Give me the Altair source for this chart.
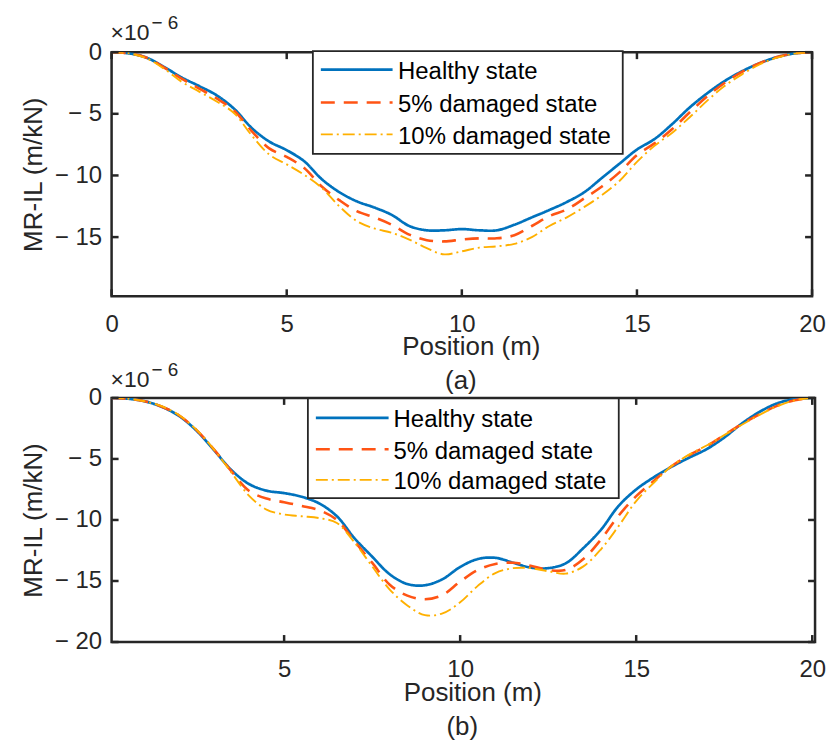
import altair as alt
import pandas as pd

SERIES = ["Healthy state", "5% damaged state", "10% damaged state"]
COLORS = ["#0072BD", "#FF5414", "#FFB000"]
DASHES = [[1, 0], [14, 9], [12, 4, 2, 4]]
WIDTHS = [2.7, 2.6, 1.9]

FONT = "Liberation Sans"
INK = "#262626"

# ---- panel (a): moment-rotation influence lines, x10^-6 m/kN ----
pos_a = [0, 0.5, 1, 1.5, 2, 2.5, 3, 3.5, 4, 4.5, 5, 5.5, 6, 6.5, 7, 7.5, 8, 8.5, 9, 9.5,
         10, 10.5, 11, 11.5, 12, 12.5, 13, 13.5, 14, 14.5, 15, 15.5, 16, 16.5, 17, 17.5,
         18, 18.5, 19, 19.5, 20]
healthy_a = [0, -0.1, -0.45, -1.2, -2.05, -2.75, -3.5, -4.6, -6.15, -7.25, -7.95, -8.85,
             -10.3, -11.35, -12.1, -12.6, -13.2, -14.1, -14.45, -14.45, -14.35, -14.45,
             -14.45, -14.0, -13.4, -12.8, -12.15, -11.35, -10.2, -9.05, -7.9, -7.05, -5.85,
             -4.5, -3.35, -2.35, -1.55, -0.9, -0.4, -0.1, 0]
dmg5_a = [0, -0.1, -0.45, -1.25, -2.15, -2.95, -3.75, -4.75, -6.4, -7.8, -8.5, -9.4,
          -10.9, -12.0, -12.9, -13.4, -14.0, -14.8, -15.25, -15.35, -15.2, -15.1, -15.1,
          -14.85, -14.1, -13.3, -12.75, -11.85, -10.9, -9.75, -8.35, -7.4, -6.25, -4.9,
          -3.6, -2.5, -1.6, -0.9, -0.4, -0.1, 0]
dmg10_a = [0, -0.1, -0.5, -1.35, -2.4, -3.2, -4.0, -4.95, -6.75, -8.3, -9.1, -9.95,
           -11.0, -12.5, -13.7, -14.3, -14.65, -15.2, -15.9, -16.4, -16.15, -15.85, -15.75,
           -15.55, -15.0, -14.1, -13.4, -12.55, -11.6, -10.45, -8.9, -7.6, -6.55, -5.3,
           -3.95, -2.75, -1.8, -1.0, -0.45, -0.12, 0]

# ---- panel (b) ----
pos_b = [0.1, 0.5, 1, 1.5, 2, 2.5, 3, 3.5, 4, 4.5, 5, 5.5, 6, 6.5, 7, 7.5, 8, 8.5, 9, 9.5,
         10, 10.5, 11, 11.5, 12, 12.5, 13, 13.5, 14, 14.5, 15, 15.5, 16, 16.5, 17, 17.5,
         18, 18.5, 19, 19.5, 20]
healthy_b = [0, -0.05, -0.25, -0.7, -1.45, -2.65, -4.25, -5.9, -7.05, -7.6, -7.8, -8.1,
             -8.65, -9.7, -11.5, -13.0, -14.45, -15.25, -15.35, -14.85, -13.85, -13.2,
             -13.1, -13.5, -13.9, -13.95, -13.55, -12.3, -10.8, -8.85, -7.5, -6.5, -5.65,
             -4.9, -4.2, -3.25, -2.1, -1.15, -0.45, -0.1, 0]
dmg5_b = [0, -0.05, -0.25, -0.68, -1.4, -2.6, -4.2, -6.0, -7.6, -8.25, -8.55, -8.85,
          -9.2, -10.0, -11.75, -13.5, -15.3, -16.2, -16.5, -16.15, -15.05, -14.1, -13.6,
          -13.5, -13.75, -14.1, -14.1, -13.2, -11.6, -9.65, -8.05, -6.8, -5.6, -4.7,
          -3.95, -3.05, -2.15, -1.35, -0.65, -0.2, 0]
dmg10_b = [0, -0.05, -0.25, -0.66, -1.38, -2.58, -4.2, -6.1, -8.0, -9.15, -9.55, -9.7,
           -9.85, -10.25, -11.85, -13.8, -15.7, -17.0, -17.8, -17.65, -16.75, -15.4,
           -14.35, -13.95, -13.95, -14.2, -14.4, -13.8, -12.4, -10.5, -8.45, -6.95, -5.6,
           -4.65, -3.9, -3.05, -2.2, -1.4, -0.7, -0.2, 0]

X_TICKS_A = [0, 5, 10, 15, 20]
X_TICKS_B = [5, 10, 15, 20]
Y_TICKS_A = [-15, -10, -5, 0]
Y_TICKS_B = [-20, -15, -10, -5, 0]

ONE = alt.Data(values=[{}])
TICK = 7


def panel(pos, curves, x_dom, y_dom, width, height, x_ticks, y_ticks, tag,
          box, rows, sample_x, text_x, exp_y):
    xs = alt.Scale(domain=x_dom, nice=False, zero=False)
    ys = alt.Scale(domain=y_dom, nice=False, zero=False)
    x_enc = alt.X(
        "pos:Q", scale=xs,
        axis=alt.Axis(values=x_ticks, title="Position (m)", labelFlush=False,
                      labelBaseline="alphabetic", labelPadding=35,
                      titleX=width / 2 + 9, titleY=58.5, titleBaseline="alphabetic",
                      titleAlign="center"),
    )
    y_enc = alt.Y(
        "val:Q", scale=ys,
        axis=alt.Axis(values=y_ticks, title="MR-IL (m/kN)", labelPadding=10,
                      labelExpr="datum.value < 0 ? '\u2212 ' + format(-datum.value, 'd') : format(datum.value, 'd')",
                      titleX=-70.5, titleY=height / 2, titleAngle=270,
                      titleBaseline="alphabetic", titleAlign="center"),
    )

    layers = []
    # anchor that fixes the panel's top-left corner of the page
    layers.append(
        alt.Chart(ONE).mark_rect(opacity=0).encode(
            x=alt.value(-110), x2=alt.value(-105), y=alt.value(-49.5), y2=alt.value(-45))
    )
    for name, vals, col, dash, sw in zip(SERIES, curves, COLORS, DASHES, WIDTHS):
        df = pd.DataFrame({"pos": pos, "val": vals})
        layers.append(
            alt.Chart(df).mark_line(color=col, strokeDash=dash, strokeWidth=sw,
                                    interpolate="catmull-rom", clip=True)
            .encode(x=x_enc, y=y_enc)
        )

    # inward ticks on all four sides
    xt = pd.DataFrame({"pos": x_ticks})
    yt = pd.DataFrame({"val": y_ticks})
    layers.append(alt.Chart(xt).mark_rule(color=INK, strokeWidth=2.5).encode(
        x=x_enc, y=alt.value(height), y2=alt.value(height - TICK)))
    layers.append(alt.Chart(xt).mark_rule(color=INK, strokeWidth=2.5).encode(
        x=x_enc, y=alt.value(0), y2=alt.value(TICK)))
    layers.append(alt.Chart(yt).mark_rule(color=INK, strokeWidth=2.5).encode(
        y=y_enc, x=alt.value(0), x2=alt.value(TICK)))
    layers.append(alt.Chart(yt).mark_rule(color=INK, strokeWidth=2.5).encode(
        y=y_enc, x=alt.value(width), x2=alt.value(width - TICK)))

    # legend box
    layers.append(
        alt.Chart(ONE).mark_rect(fill="white", stroke=INK, strokeWidth=1.8).encode(
            x=alt.value(box[0]), x2=alt.value(box[1]),
            y=alt.value(box[2]), y2=alt.value(box[3]))
    )
    for name, col, dash, sw, ry in zip(SERIES, COLORS, DASHES, WIDTHS, rows):
        layers.append(
            alt.Chart(ONE).mark_rule(color=col, strokeDash=dash, strokeWidth=sw).encode(
                x=alt.value(sample_x[0]), x2=alt.value(sample_x[1]), y=alt.value(ry))
        )
        layers.append(
            alt.Chart(ONE).mark_text(align="left", baseline="alphabetic", font=FONT,
                                     fontSize=24, color="black").encode(
                x=alt.value(text_x), y=alt.value(ry + 9.5), text=alt.value(name))
        )

    # exponent of the y axis
    layers.append(
        alt.Chart(ONE).mark_text(align="left", baseline="alphabetic", font=FONT,
                                 fontSize=23, color=INK).encode(
            x=alt.value(-1), y=alt.value(exp_y[0]), text=alt.value("\u00d710"))
    )
    layers.append(
        alt.Chart(ONE).mark_text(align="left", baseline="alphabetic", font=FONT,
                                 fontSize=19, color=INK).encode(
            x=alt.value(40), y=alt.value(exp_y[1]), text=alt.value("\u2212 6"))
    )
    # sub-figure tag
    layers.append(
        alt.Chart(ONE).mark_text(align="center", baseline="alphabetic", font=FONT,
                                 fontSize=26, color=INK).encode(
            x=alt.value(width / 2 - 1), y=alt.value(height + 93.5), text=alt.value(tag))
    )
    return alt.layer(*layers).properties(width=width, height=height)


top = panel(pos_a, [healthy_a, dmg5_a, dmg10_a], [0, 20], [-19.8, 0], 703, 245,
            X_TICKS_A, Y_TICKS_A, "(a)",
            box=(202, 513, -1, 102), rows=(17.5, 50.5, 82.5),
            sample_x=(210, 282), text_x=287.5, exp_y=(-12.5, -23.5))
bottom = panel(pos_b, [healthy_b, dmg5_b, dmg10_b], [0.1, 20.08], [-20, 0], 706, 245,
               X_TICKS_B, Y_TICKS_B, "(b)",
               box=(197, 509, 0.5, 100.5), rows=(20, 51.6, 82.3),
               sample_x=(205, 278), text_x=283, exp_y=(-10.5, -21.5))

chart = (
    alt.vconcat(top, bottom, spacing=102, bounds="flush")
    .properties(padding={"left": 0, "top": 0, "right": 2, "bottom": 2}, background="white")
    .configure_view(stroke=INK, strokeWidth=2.5)
    .configure_axis(labelFont=FONT, labelFontSize=24, labelColor=INK,
                    titleFont=FONT, titleFontSize=26, titleColor=INK,
                    titleFontWeight="normal", domain=False, ticks=False, tickSize=0,
                    grid=False)
)

chart.save("out.html", embed_options={"renderer": "svg", "actions": False})
